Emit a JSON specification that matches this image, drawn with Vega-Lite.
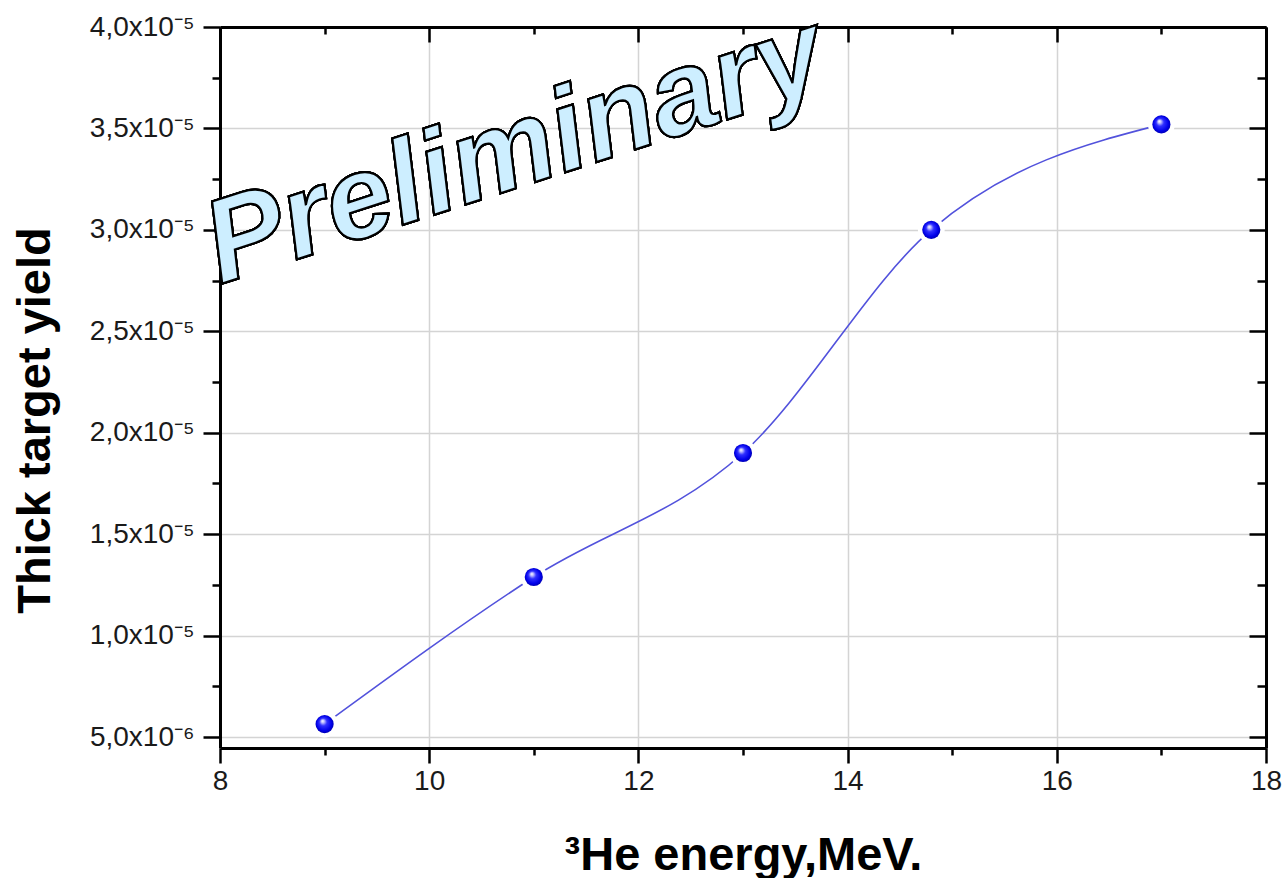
{
  "$schema": "https://vega.github.io/schema/vega-lite/v6.json",
  "width": 1046,
  "height": 721,
  "autosize": {"type": "none"},
  "padding": {"left": 220, "top": 27, "right": 19, "bottom": 130},
  "background": "white",
  "config": {
    "view": {"stroke": null},
    "font": "Liberation Sans",
    "axis": {
      "domainColor": "#000000",
      "domainWidth": 3,
      "tickColor": "#000000",
      "tickWidth": 2.5,
      "gridColor": "#d4d4d4",
      "gridWidth": 1.5,
      "labelColor": "#1a1a1a",
      "labelFont": "Liberation Sans",
      "labelFontSize": 28,
      "labelOverlap": false,
      "labelFlush": false,
      "titleColor": "#000000",
      "titleFont": "Liberation Sans",
      "titleFontWeight": "bold"
    }
  },
  "data": {
    "values": [
      {"energy": 9, "yield": 5.64e-6},
      {"energy": 11, "yield": 1.289e-5},
      {"energy": 13, "yield": 1.9e-5},
      {"energy": 14.8, "yield": 3.0e-5},
      {"energy": 17, "yield": 3.52e-5}
    ]
  },
  "layer": [
    {
      "mark": {"type": "line", "interpolate": "monotone", "color": "#5252dc", "strokeWidth": 1.6},
      "encoding": {
        "x": {
          "field": "energy", "type": "quantitative",
          "scale": {"domain": [8, 18], "nice": false, "zero": false},
          "axis": {
            "orient": "bottom",
            "values": [8, 10, 12, 14, 16, 18],
            "tickSize": 15,
            "labelPadding": 4,
            "title": "³He energy,MeV.",
            "titleFontSize": 47,
            "titleX": 523,
            "titleY": 121,
            "titleAlign": "center",
            "titleBaseline": "alphabetic"
          }
        },
        "y": {
          "field": "yield", "type": "quantitative",
          "scale": {"domain": [4.46e-6, 4.0e-5], "nice": false, "zero": false},
          "axis": {
            "orient": "left",
            "values": [5e-6, 1e-5, 1.5e-5, 2e-5, 2.5e-5, 3e-5, 3.5e-5, 4e-5],
            "labelExpr": "datum.value < 9.9e-6 ? replace(format(datum.value*1e6, '.1f'), '.', ',') + 'x10⁻⁶' : replace(format(datum.value*1e5, '.1f'), '.', ',') + 'x10⁻⁵'",
            "tickSize": 17,
            "labelPadding": 9,
            "labelBaseline": "middle",
            "title": "Thick target yield",
            "titleFontSize": 47,
            "titleAngle": -90,
            "titleX": -185,
            "titleY": 393,
            "titleAlign": "center",
            "titleBaseline": "middle"
          }
        }
      }
    },
    {
      "mark": {"type": "circle", "size": 720, "color": "white", "opacity": 1},
      "encoding": {
        "x": {
          "field": "energy", "type": "quantitative",
          "axis": {
            "orient": "bottom",
            "values": [9, 11, 13, 15, 17],
            "labels": false, "grid": false, "domain": false, "title": null,
            "tickSize": 7
          }
        },
        "y": {
          "field": "yield", "type": "quantitative",
          "axis": {
            "orient": "left",
            "values": [7.5e-6, 1.25e-5, 1.75e-5, 2.25e-5, 2.75e-5, 3.25e-5, 3.75e-5],
            "labels": false, "grid": false, "domain": false, "title": null,
            "tickSize": 8
          }
        }
      }
    },
    {
      "mark": {"type": "circle", "size": 10, "opacity": 0},
      "encoding": {
        "x": {
          "field": "energy", "type": "quantitative",
          "axis": {
            "orient": "top",
            "values": [8, 10, 12, 14, 16, 18],
            "labels": false, "grid": false, "title": null,
            "tickSize": -15
          }
        },
        "y": {
          "field": "yield", "type": "quantitative",
          "axis": {
            "orient": "right",
            "values": [5e-6, 1e-5, 1.5e-5, 2e-5, 2.5e-5, 3e-5, 3.5e-5, 4e-5],
            "labels": false, "grid": false, "title": null,
            "tickSize": -17
          }
        }
      }
    },
    {
      "mark": {"type": "circle", "size": 10, "opacity": 0},
      "encoding": {
        "x": {
          "field": "energy", "type": "quantitative",
          "axis": {
            "orient": "top",
            "values": [9, 11, 13, 15, 17],
            "labels": false, "grid": false, "domain": false, "title": null,
            "tickSize": -7
          }
        },
        "y": {
          "field": "yield", "type": "quantitative",
          "axis": {
            "orient": "right",
            "values": [7.5e-6, 1.25e-5, 1.75e-5, 2.25e-5, 2.75e-5, 3.25e-5, 3.75e-5],
            "labels": false, "grid": false, "domain": false, "title": null,
            "tickSize": -9
          }
        }
      }
    },
    {
      "mark": {
        "type": "circle",
        "size": 330,
        "opacity": 1,
        "fill": {
          "gradient": "radial",
          "x1": 0.38, "y1": 0.32, "r1": 0,
          "x2": 0.5, "y2": 0.5, "r2": 0.55,
          "stops": [
            {"offset": 0, "color": "#ffffff"},
            {"offset": 0.15, "color": "#c4c4ff"},
            {"offset": 0.38, "color": "#3030ff"},
            {"offset": 0.75, "color": "#0000ea"},
            {"offset": 1, "color": "#0000a0"}
          ]
        }
      },
      "encoding": {
        "x": {"field": "energy", "type": "quantitative", "axis": null},
        "y": {"field": "yield", "type": "quantitative", "axis": null}
      }
    },
    {
      "mark": {
        "type": "text",
        "text": "Preliminary",
        "font": "Liberation Sans",
        "fontWeight": "bold",
        "fontStyle": "italic",
        "fontSize": 118,
        "angle": -18,
        "align": "center",
        "baseline": "middle",
        "fill": "#cdeeff",
        "stroke": "#000000",
        "strokeWidth": 2.2
      },
      "encoding": {
        "x": {"datum": 10.82, "type": "quantitative", "axis": null},
        "y": {"datum": 3.385e-5, "type": "quantitative", "axis": null}
      }
    }
  ],
  "resolve": {"axis": {"x": "independent", "y": "independent"}}
}
